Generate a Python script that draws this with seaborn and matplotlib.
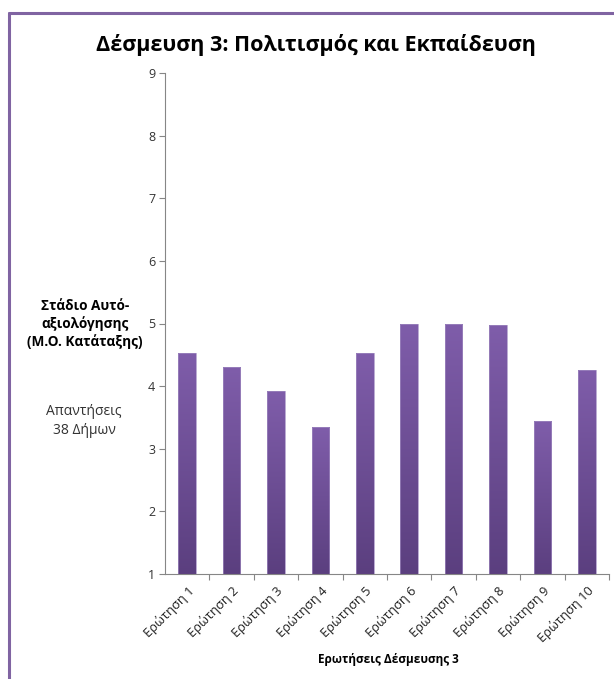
import matplotlib
matplotlib.use("Agg")
import matplotlib.pyplot as plt
import seaborn as sns
import numpy as np
import pandas as pd
from matplotlib.patches import Rectangle
from matplotlib.ticker import FixedLocator

categories = ["Ερώτηση 1", "Ερώτηση 2", "Ερώτηση 3", "Ερώτηση 4", "Ερώτηση 5",
              "Ερώτηση 6", "Ερώτηση 7", "Ερώτηση 8", "Ερώτηση 9", "Ερώτηση 10"]
values = [4.53, 4.30, 3.92, 3.34, 4.53, 5.00, 5.00, 4.97, 3.44, 4.25]
yticks = [1, 2, 3, 4, 5, 6, 7, 8, 9]

title = "Δέσμευση 3: Πολιτισμός και Εκπαίδευση"
ylabel_bold = "Στάδιο Αυτό-\nαξιολόγησης\n(Μ.Ο. Κατάταξης)"
ylabel_note = "Απαντήσεις\n38 Δήμων"
xlabel = "Ερωτήσεις Δέσμευσης 3"

sns.set_theme(style="white")
plt.rcParams['font.family'] = ['Open Sans', 'DejaVu Sans']

df = pd.DataFrame({"q": categories, "v": values})

fig = plt.figure(figsize=(6.14, 6.79), dpi=100)
ax = fig.add_axes([165/614, 1-574/679, (609-165)/614, (574-73)/679])

sns.barplot(data=df, x="q", y="v", color="#7256a0", width=0.4, ax=ax,
            saturation=1, edgecolor="none")

ymin = yticks[0]
ax.set_ylim(ymin, yticks[-1])
ax.set_yticks(yticks)
ax.set_yticklabels([str(t) for t in yticks], fontsize=9, color="#333333")

# bars start at the axis minimum (as in the spreadsheet chart), with gradient fill
top_c = np.array([0.498, 0.365, 0.667])
bot_c = np.array([0.357, 0.247, 0.498])
grad = np.linspace(0, 1, 256)[:, None]
img = top_c[None, None, :] * (1 - grad[:, :, None]) + bot_c[None, None, :] * grad[:, :, None]
for p in list(ax.patches):
    h = p.get_height()
    p.set_y(ymin)
    p.set_height(h - ymin)
    x0, y0 = p.get_x(), p.get_y()
    w, hh = p.get_width(), p.get_height()
    p.set_facecolor("none")
    im = ax.imshow(img, extent=[x0, x0 + w, y0, y0 + hh], aspect="auto",
                   origin="upper", zorder=2)
    im.set_clip_path(p)
    ax.add_patch(Rectangle((x0, y0), w, hh, fill=False, edgecolor="#a08ac0",
                           linewidth=0.5, zorder=3))
ax.set_xlim(-0.5, len(categories) - 0.5)
ax.set_ylim(ymin, yticks[-1])

ax.set_xticks(np.arange(len(categories)))
ax.set_xticklabels(categories, rotation=45, ha="right", rotation_mode="anchor",
                   fontsize=9.3, color="#222222")
ax.tick_params(axis="x", which="major", length=0, pad=7)
ax.xaxis.set_minor_locator(FixedLocator(np.arange(0.5, len(categories), 1.0)))
ax.tick_params(axis="x", which="minor", length=4, color="#868686", width=0.8,
               direction="out", bottom=True)
ax.tick_params(axis="y", length=4, color="#868686", width=0.8, direction="out",
               left=True, pad=3)

for s in ["top", "right"]:
    ax.spines[s].set_visible(False)
for s in ["left", "bottom"]:
    ax.spines[s].set_color("#868686")
    ax.spines[s].set_linewidth(0.8)
    ax.spines[s].set_zorder(4)
ax.set_xlabel("")
ax.set_ylabel("")
ax.grid(False)

fig.text(316/614, 1-45/679, title, fontsize=15.5, fontweight="bold",
         ha="center", va="center", color="black")
fig.text(85/614, 1-324/679, ylabel_bold, fontsize=9.8, fontweight="bold",
         ha="center", va="center", color="black", linespacing=1.3)
fig.text(84/614, 1-421/679, ylabel_note, fontsize=10, ha="center", va="center",
         color="#333333", linespacing=1.3)
fig.text(388/614, 1-660/679, xlabel, fontsize=8.5, fontweight="bold",
         ha="center", va="center", color="black")

# chart border (purple), left and top visible
fig.add_artist(plt.Line2D([9/614, 9/614], [0, 1-13/679], color="#8064a2", linewidth=2.2,
                          transform=fig.transFigure))
fig.add_artist(plt.Line2D([9/614, 1], [1-13/679, 1-13/679], color="#8064a2", linewidth=2.2,
                          transform=fig.transFigure))

fig.savefig("out.png", dpi=100, facecolor="white")
